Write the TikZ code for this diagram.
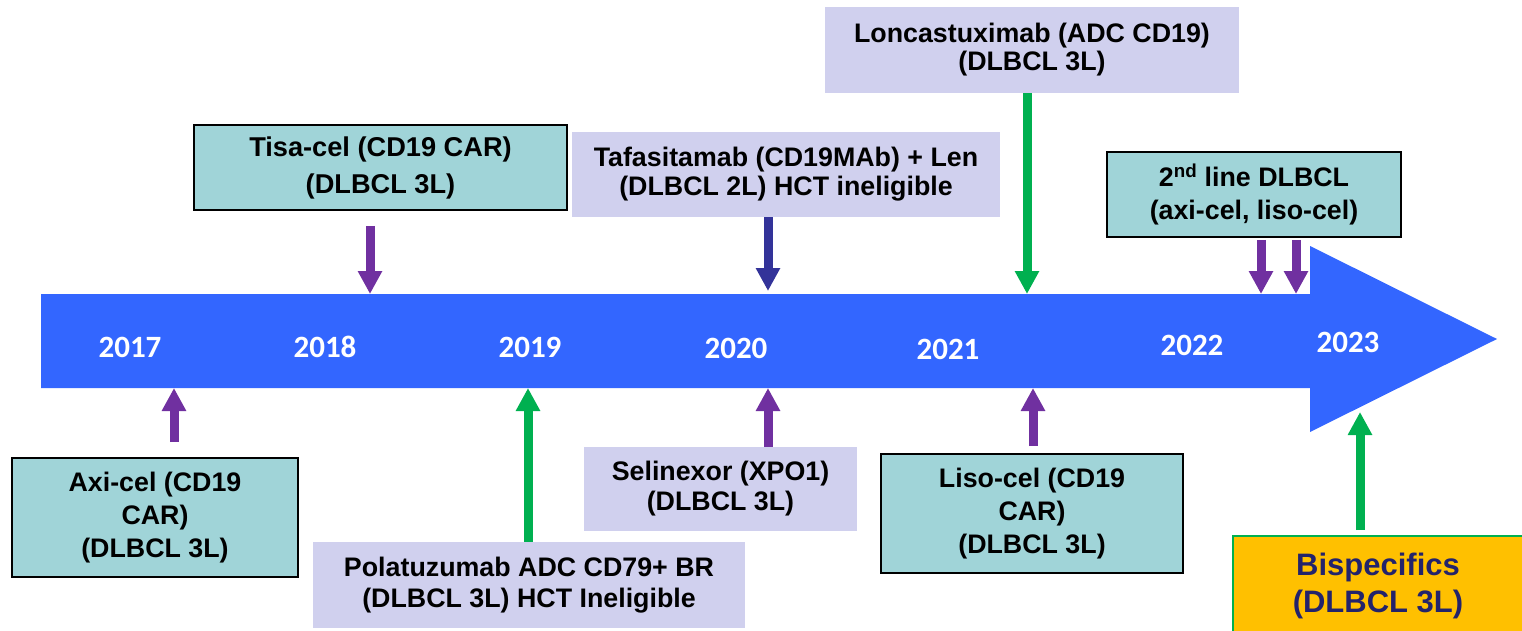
\documentclass[tikz,border=0pt]{standalone}
\usepackage{fontspec}
\setmainfont{Liberation Sans}
\newfontfamily\yearfont{Carlito}
\usepackage{xcolor}
\usepackage{tikz}
\usetikzlibrary{arrows.meta,positioning}

\definecolor{lineblue}{HTML}{3366FF}
\definecolor{tealbox}{HTML}{A0D4D8}
\definecolor{lavbox}{HTML}{D0D0EE}
\definecolor{arrpurple}{HTML}{7030A0}
\definecolor{arrgreen}{HTML}{00B050}
\definecolor{arrnavy}{HTML}{333399}
\definecolor{bispec}{HTML}{FFC000}
\definecolor{bisptext}{HTML}{23236B}

\tikzset{
  carbox/.style={draw=black,line width=1.8pt,fill=tealbox,align=center,font=\fontsize{26.8}{33}\selectfont\bfseries},
  drugbox/.style={fill=lavbox,align=center,font=\fontsize{26.8}{30}\selectfont\bfseries},
  yearlbl/.style={text=white,font=\fontsize{31}{31}\selectfont\yearfont\bfseries},
  thickarr/.style={line width=9pt,-{Triangle[width=23pt,length=23pt]}}
}

\begin{document}
\begin{tikzpicture}[x=1pt,y=1pt,yscale=-1]
\clip (0,0) rectangle (1522,631);

%Right Arrow: time line
\fill[lineblue] (41,294) -- (1310,294) -- (1310,246) -- (1497,339) -- (1310,432) -- (1310,388) -- (41,388) -- cycle;

% points on the time line
\coordinate (p17) at (174,388);
\coordinate (p18) at (370,294);
\coordinate (p19) at (528,388);
\coordinate (p20a) at (768,291);
\coordinate (p20b) at (768,388);
\coordinate (p21a) at (1027,294);
\coordinate (p21b) at (1033,388);
\coordinate (p22a) at (1261,294);
\coordinate (p22b) at (1296,294);
\coordinate (p23) at (1360,412);

% Text Node: years
\node[yearlbl] (y17) at (130,347) {2017};
\node[yearlbl] (y18) at (325,347) {2018};
\node[yearlbl] (y19) at (530,347) {2019};
\node[yearlbl] (y20) at (736,348) {2020};
\node[yearlbl] (y21) at (948,349) {2021};
\node[yearlbl] (y22) at (1192,345) {2022};
\node[yearlbl] (y23) at (1348,342) {2023};

%Flowchart: Process (above)
\node[carbox,minimum width=373pt,minimum height=85pt,font=\fontsize{27.2}{37}\selectfont\bfseries] (tisa) at (380.5,167.5) {Tisa-cel (CD19 CAR)\\(DLBCL 3L)};
\node[drugbox,minimum width=428pt,minimum height=85pt,font=\fontsize{26.8}{29}\selectfont\bfseries] (tafa) at (786,174.5) {Tafasitamab (CD19MAb) + Len\\(DLBCL 2L) HCT ineligible};
\node[drugbox,minimum width=414pt,minimum height=86pt,font=\fontsize{26.8}{28}\selectfont\bfseries] (lonc) at (1032,50) {Loncastuximab (ADC CD19)\\(DLBCL 3L)};
\node[carbox,minimum width=294pt,minimum height=85pt] (second) at (1254,194.5) {2\textsuperscript{nd} line DLBCL\\(axi-cel, liso-cel)};

%Flowchart: Process (below)
\node[carbox,minimum width=286pt,minimum height=119pt] (axi) at (155,517.5) {Axi-cel (CD19\\CAR)\\(DLBCL 3L)};
\node[drugbox,minimum width=432pt,minimum height=86pt,font=\fontsize{26.8}{31}\selectfont\bfseries] (pola) at (529,585) {Polatuzumab ADC CD79+ BR\\(DLBCL 3L) HCT Ineligible};
\node[drugbox,minimum width=273pt,minimum height=84pt] (seli) at (720.5,489) {Selinexor (XPO1)\\(DLBCL 3L)};
\node[carbox,minimum width=302pt,minimum height=119pt] (liso) at (1032,513.5) {Liso-cel (CD19\\CAR)\\(DLBCL 3L)};
\node[draw=arrgreen,line width=1.8pt,fill=bispec,text=bisptext,align=center,minimum width=290pt,minimum height=100pt,font=\fontsize{31}{37}\selectfont\bfseries] (bisp) at (1378,586) {Bispecifics\\(DLBCL 3L)};

%Right Arrow: down to the line
\draw[thickarr,arrpurple,shorten <=15pt] (tisa.south -| p18) -- (p18);
\draw[thickarr,arrnavy] (tafa.south -| p20a) -- (p20a);
\draw[thickarr,arrgreen] (lonc.south -| p21a) -- (p21a);
\draw[thickarr,arrpurple,shorten <=2pt] (second.south -| p22a) -- (p22a);
\draw[thickarr,arrpurple,shorten <=2pt] (second.south -| p22b) -- (p22b);

%Right Arrow: up to the line
\draw[thickarr,arrpurple,shorten <=15pt] (axi.north -| p17) -- (p17);
\draw[thickarr,arrgreen] (pola.north -| p19) -- (p19);
\draw[thickarr,arrpurple] (seli.north -| p20b) -- (p20b);
\draw[thickarr,arrpurple,shorten <=7pt] (liso.north -| p21b) -- (p21b);
\draw[thickarr,arrgreen,shorten <=5pt] (bisp.north -| p23) -- (p23);
\end{tikzpicture}
\end{document}
